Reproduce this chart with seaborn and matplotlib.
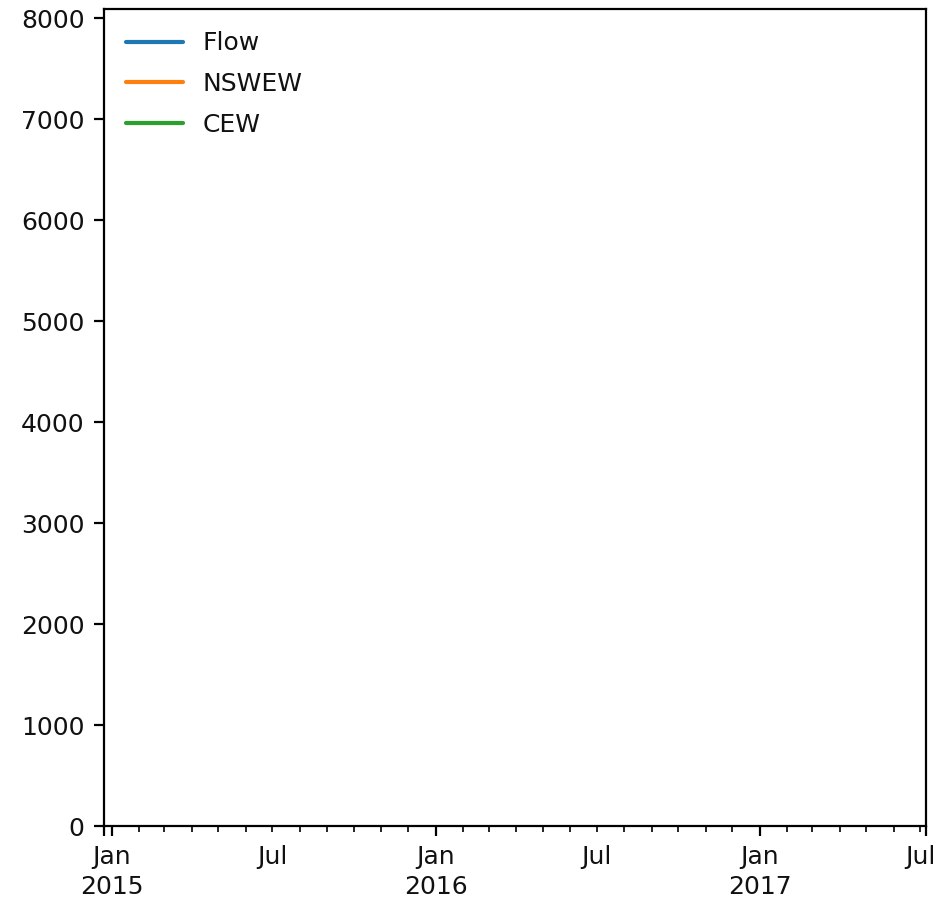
import numpy as np
import pandas as pd
import matplotlib
matplotlib.use("Agg")
import matplotlib.pyplot as plt
import matplotlib.dates as mdates
import matplotlib.ticker as mticker
import seaborn as sns

# Data (series show no visible values in the reference)
dates = ["2014-12-23", "2015-07-01", "2016-01-01", "2016-07-01", "2017-01-01", "2017-07-07"]
flow = [np.nan, np.nan, np.nan, np.nan, np.nan, np.nan]
nswew = [np.nan, np.nan, np.nan, np.nan, np.nan, np.nan]
cew = [np.nan, np.nan, np.nan, np.nan, np.nan, np.nan]
series_names = ["Flow", "NSWEW", "CEW"]
yticks = [0, 1000, 2000, 3000, 4000, 5000, 6000, 7000, 8000]
year_ticks = ["2015-01-01", "2016-01-01", "2017-01-01"]
year_labels = ["Jan\n2015", "Jan\n2016", "Jan\n2017"]

sns.set_style("ticks")
plt.rcParams["font.family"] = ["DejaVu Sans"]
FS = 9
plt.rcParams["font.size"] = FS
plt.rcParams["text.color"] = "#111111"

DPI = 200
fig = plt.figure(figsize=(937 / DPI, 901 / DPI), dpi=DPI)
ax = fig.add_axes([104 / 937, 1 - 826 / 901, (925.7 - 104) / 937, (826 - 9) / 901])

x = pd.to_datetime(dates)
colors = sns.color_palette("tab10", 3)
for name, vals, c in zip(series_names, [flow, nswew, cew], colors):
    ax.plot(x, vals, label=name, color=c, lw=1.5)

x0 = x[0]
x1 = x[-1]
ax.set_xlim(x0, x1)
ax.set_ylim(0, 8090)
ax.set_yticks(yticks)
ax.set_yticklabels([str(v) for v in yticks])

# major ticks: axis ends + January of each year
major = [x0] + list(pd.to_datetime(year_ticks)) + [x1]
ax.set_xticks(mdates.date2num(pd.to_datetime(major)))
ax.set_xticklabels([""] + year_labels + [""], linespacing=1.3)

# minor ticks: each month; July labelled
months = pd.date_range("2015-02-01", "2017-07-01", freq="MS")
months = [m for m in months if m.month != 1]
ax.xaxis.set_minor_locator(mticker.FixedLocator(mdates.date2num(pd.to_datetime(months))))
ax.xaxis.set_minor_formatter(mticker.FixedFormatter(["Jul" if m.month == 7 else "" for m in months]))

for s in ax.spines.values():
    s.set_color("black")
    s.set_linewidth(0.8)
ax.tick_params(axis="both", which="major", direction="out", length=3.5, width=0.8,
               color="black", labelsize=FS, labelcolor="#111111", pad=3.5)
ax.tick_params(axis="x", which="minor", direction="out", length=2, width=0.6,
               color="black", labelsize=FS, labelcolor="#111111", pad=3.4 + 1.5)
ax.set_xlabel("")
ax.set_ylabel("")

ax.legend(loc="upper left", frameon=False, fontsize=FS, handlelength=2.25, labelspacing=0.66)

fig.savefig("out.png", dpi=DPI)
